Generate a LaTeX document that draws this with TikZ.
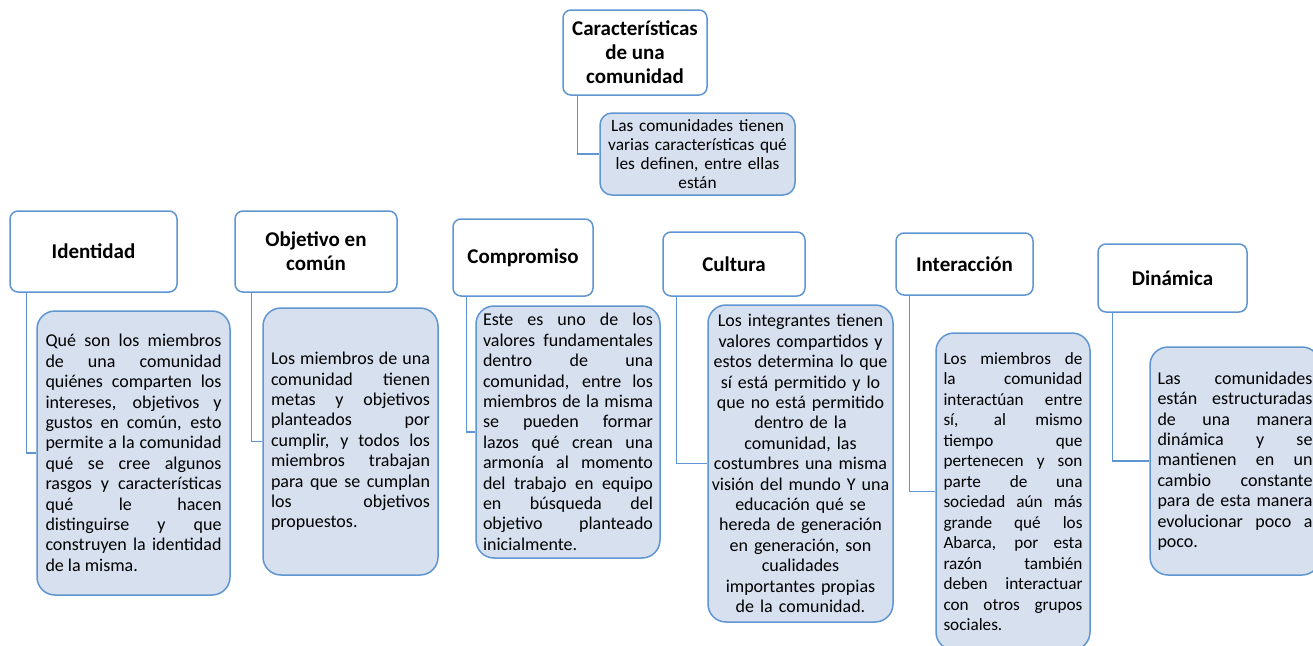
\documentclass[tikz,border=0pt]{standalone}
\usepackage{fontspec}
\setmainfont{Carlito}
\usepackage{tikz}
\usetikzlibrary{positioning}
\definecolor{borde}{HTML}{5F95D0}
\definecolor{relleno}{HTML}{D6E0EF}
\tolerance=9999
\hbadness=10000
\tikzset{
  titulo/.style={draw=borde, fill=white, line width=1.5pt, rounded corners=8pt, align=center, inner sep=0pt, font=\fontsize{21}{24}\selectfont\bfseries},
  texto/.style={draw=borde, fill=relleno, line width=1.5pt, rounded corners=18pt, align=justify, inner sep=0pt, font=\fontsize{18}{20.4}\selectfont},
  enlace/.style={draw=borde, line width=1.5pt}
}

\begin{document}
\begin{tikzpicture}[x=1pt, y=-1pt]
    \useasboundingbox (0,0) rectangle (1313,645);
    \clip (0,0) rectangle (1313,645);

    % Main topic
    \node[titulo, minimum width=144pt, minimum height=85pt] (main) at (635,52.5) {Características\\de una\\comunidad};
    \node[texto, align=center, text width=186pt, minimum width=195pt, minimum height=82pt, rounded corners=12pt, font=\fontsize{17.3}{19}\selectfont] (maintxt) at (697.5,154) {Las comunidades tienen\\varias características qué\\les definen, entre ellas\\están};

    % Headers
    \node[titulo, minimum width=167pt, minimum height=81pt] (ident) at (93.5,251.5) {Identidad};
    \node[titulo, minimum width=162pt, minimum height=81pt] (objet) at (316,251.5) {Objetivo en\\común};
    \node[titulo, minimum width=140pt, minimum height=77pt] (compr) at (523,257.5) {Compromiso};
    \node[titulo, minimum width=142pt, minimum height=64pt] (cultu) at (734,264) {Cultura};
    \node[titulo, minimum width=137pt, minimum height=62pt] (inter) at (964.5,264) {Interacción};
    \node[titulo, minimum width=149pt, minimum height=68pt] (dinam) at (1172.5,278) {Dinámica};

    % Descriptions
    \node[texto, text width=176pt, minimum width=193pt, minimum height=284pt] (identtxt) at (133.5,453) {Qué son los miembros \linebreak de una comunidad \linebreak quiénes comparten los \linebreak intereses, objetivos y \linebreak gustos en común, esto \linebreak permite a la comunidad \linebreak qué se cree algunos \linebreak rasgos y características \linebreak qué le hacen \linebreak distinguirse y que \linebreak construyen la identidad \linebreak de la misma.};
    \node[texto, text width=159pt, minimum width=175pt, minimum height=267pt] (objettxt) at (350.5,441.5) {Los miembros de una \linebreak comunidad tienen \linebreak metas y objetivos \linebreak planteados por \linebreak cumplir, y todos los \linebreak miembros trabajan \linebreak para que se cumplan \linebreak los objetivos \linebreak propuestos.};
    \node[texto, text width=170pt, minimum width=184pt, minimum height=252pt] (comprtxt) at (568,432) {Este es uno de los \linebreak valores fundamentales \linebreak dentro de una \linebreak comunidad, entre los \linebreak miembros de la misma \linebreak se pueden formar \linebreak lazos qué crean una \linebreak armonía al momento \linebreak del trabajo en equipo \linebreak en búsqueda del \linebreak objetivo planteado \linebreak inicialmente.};
    \node[texto, align=center, text width=182pt, minimum width=185pt, minimum height=317pt, font=\fontsize{18}{20.4}\selectfont] (cultutxt) at (800.5,463.5) {Los integrantes tienen\\valores compartidos y\\estos determina lo que\\sí está permitido y lo\\que no está permitido\\dentro de la\\comunidad, las\\costumbres una misma\\visión del mundo Y una\\educación qué se\\hereda de generación\\en generación, son\\cualidades\\importantes propias\\de la comunidad.};
    \node[texto, text width=139pt, minimum width=154pt, minimum height=317pt, font=\fontsize{17.2}{20.5}\selectfont] (intertxt) at (1013,491.5) {Los miembros de \linebreak la comunidad \linebreak interactúan entre \linebreak sí, al mismo \linebreak tiempo que \linebreak pertenecen y son \linebreak parte de una \linebreak sociedad aún más \linebreak grande qué los \linebreak Abarca, por esta \linebreak razón también \linebreak deben interactuar \linebreak con otros grupos \linebreak sociales.};
    \node[texto, text width=155pt, minimum width=170pt, minimum height=228pt] (dinamtxt) at (1235,461) {Las comunidades \linebreak están estructuradas \linebreak de una manera \linebreak dinámica y se \linebreak mantienen en un \linebreak cambio constante \linebreak para de esta manera \linebreak evolucionar poco a \linebreak poco.};

    % Connectors
    \draw[enlace] ([xshift=15pt]main.south west) |- (maintxt.west);
    \draw[enlace] ([xshift=17pt]ident.south west) |- (identtxt.west);
    \draw[enlace] ([xshift=17pt]objet.south west) |- (objettxt.west);
    \draw[enlace] ([xshift=14pt]compr.south west) |- (comprtxt.west);
    \draw[enlace] ([xshift=14pt]cultu.south west) |- (cultutxt.west);
    \draw[enlace] ([xshift=14pt]inter.south west) |- (intertxt.west);
    \draw[enlace] ([xshift=15pt]dinam.south west) |- (dinamtxt.west);
\end{tikzpicture}
\end{document}
